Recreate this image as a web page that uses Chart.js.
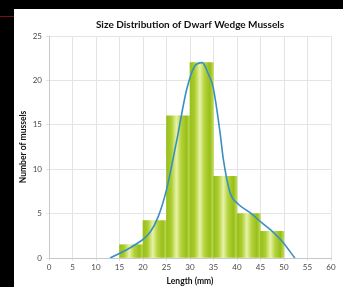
<!DOCTYPE html>
<html>
<head>
<meta charset="utf-8">
<script src="https://cdn.jsdelivr.net/npm/chart.js@4/dist/chart.umd.min.js"></script>
<style>
  html, body { margin: 0; padding: 0; background: #000; }
  body { width: 343px; height: 287px; position: relative; overflow: hidden; }
  .redline { position: absolute; left: 0; top: 16px; width: 14px; height: 1px; background: #7a1010; }
  .panel { position: absolute; left: 14px; top: 9px; width: 329px; height: 278px; background: #fff; }
  canvas { display: block; }
</style>
</head>
<body>
<div class="redline"></div>
<div class="panel"><canvas id="chart" width="329" height="278"></canvas></div>
<script>
// histogram bins (centres, mm) and counts
const binCenters = [17.5, 22.5, 27.5, 32.5, 37.5, 42.5, 47.5]
const counts = [1.5, 4.2, 16, 22, 9.2, 5, 3]

// fitted curve
const curveX = [13, 17.9, 21.5, 23.2, 25, 27.2, 29.3, 31, 32.6, 34, 34.9, 36.4, 37.1, 38.5, 40.3, 42.8, 45.2, 47.4, 49.5, 52.3]
const curveY = [0, 1.35, 2.9, 4.6, 7.7, 13.3, 19, 21.6, 22, 20.6, 19.3, 14.1, 11.1, 7.4, 6.05, 5.1, 4.0, 3.06, 1.94, 0]

const TITLE = 'Size Distribution of Dwarf Wedge Mussels'
const FONT = 'Lato, "Open Sans", sans-serif'

function barGradient(ctx) {
  const chart = ctx.chart
  const area = chart.chartArea
  if (!area || ctx.raw == null) return '#a8cc2a'
  const xs = chart.scales.x
  const left = xs.getPixelForValue(ctx.raw.x - 2.5)
  const right = xs.getPixelForValue(ctx.raw.x + 2.5)
  const g = chart.ctx.createLinearGradient(left, 0, right, 0)
  g.addColorStop(0, '#98bf1c')
  g.addColorStop(0.2, '#a9cd2c')
  g.addColorStop(0.42, '#e8f2a8')
  g.addColorStop(0.62, '#b4d33c')
  g.addColorStop(0.85, '#98bf18')
  g.addColorStop(1, '#c2dc5c')
  return g
}

// title centred over the plot area, not the whole canvas
const plotTitle = {
  id: 'plotTitle',
  afterDraw(chart) {
    const { ctx, chartArea } = chart
    ctx.save()
    ctx.font = 'bold 10px ' + FONT
    ctx.fillStyle = '#111'
    ctx.textAlign = 'center'
    ctx.textBaseline = 'middle'
    ctx.fillText(TITLE, (chartArea.left + chartArea.right) / 2, 16)
    ctx.restore()
  },
}

new Chart(document.getElementById('chart'), {
  data: {
    datasets: [
      {
        type: 'line',
        data: curveX.map((x, i) => ({ x, y: curveY[i] })),
        borderColor: '#3a8fc2',
        borderWidth: 1.6,
        pointRadius: 0,
        cubicInterpolationMode: 'monotone',
        fill: false,
        order: 0,
      },
      {
        type: 'bar',
        data: binCenters.map((x, i) => ({ x, y: counts[i] })),
        backgroundColor: barGradient,
        borderWidth: 0,
        barPercentage: 1,
        categoryPercentage: 1,
        order: 1,
      },
    ],
  },
  options: {
    responsive: false,
    animation: false,
    layout: { padding: { left: 0, right: 12, top: 27, bottom: 0 } },
    plugins: {
      legend: { display: false },
      tooltip: { enabled: false },
      title: { display: false },
    },
    scales: {
      x: {
        type: 'linear',
        offset: false,
        min: 0,
        max: 60,
        ticks: { stepSize: 5, color: '#4a4a4a', font: { family: FONT, size: 8 }, padding: 2, maxRotation: 0 },
        grid: { color: '#e4e4e4', tickLength: 3, offset: false },
        border: { color: '#c8c8c8' },
        title: { display: true, text: 'Length (mm)', color: '#111', font: { family: FONT, size: 8.5, weight: 'bold' }, padding: { top: 1, bottom: 1 } },
        afterFit: (s) => { s.height = 29 },
      },
      y: {
        min: 0,
        max: 25,
        ticks: { stepSize: 5, color: '#4a4a4a', font: { family: FONT, size: 8 }, padding: 4 },
        grid: { color: '#e4e4e4', tickLength: 3 },
        border: { color: '#c8c8c8' },
        title: { display: true, text: 'Number of mussels', color: '#111', font: { family: FONT, size: 8.5, weight: 'bold' }, padding: { top: 4, bottom: 0 } },
        afterFit: (s) => { s.width = 35 },
      },
    },
  },
  plugins: [plotTitle],
})
</script>
</body>
</html>
